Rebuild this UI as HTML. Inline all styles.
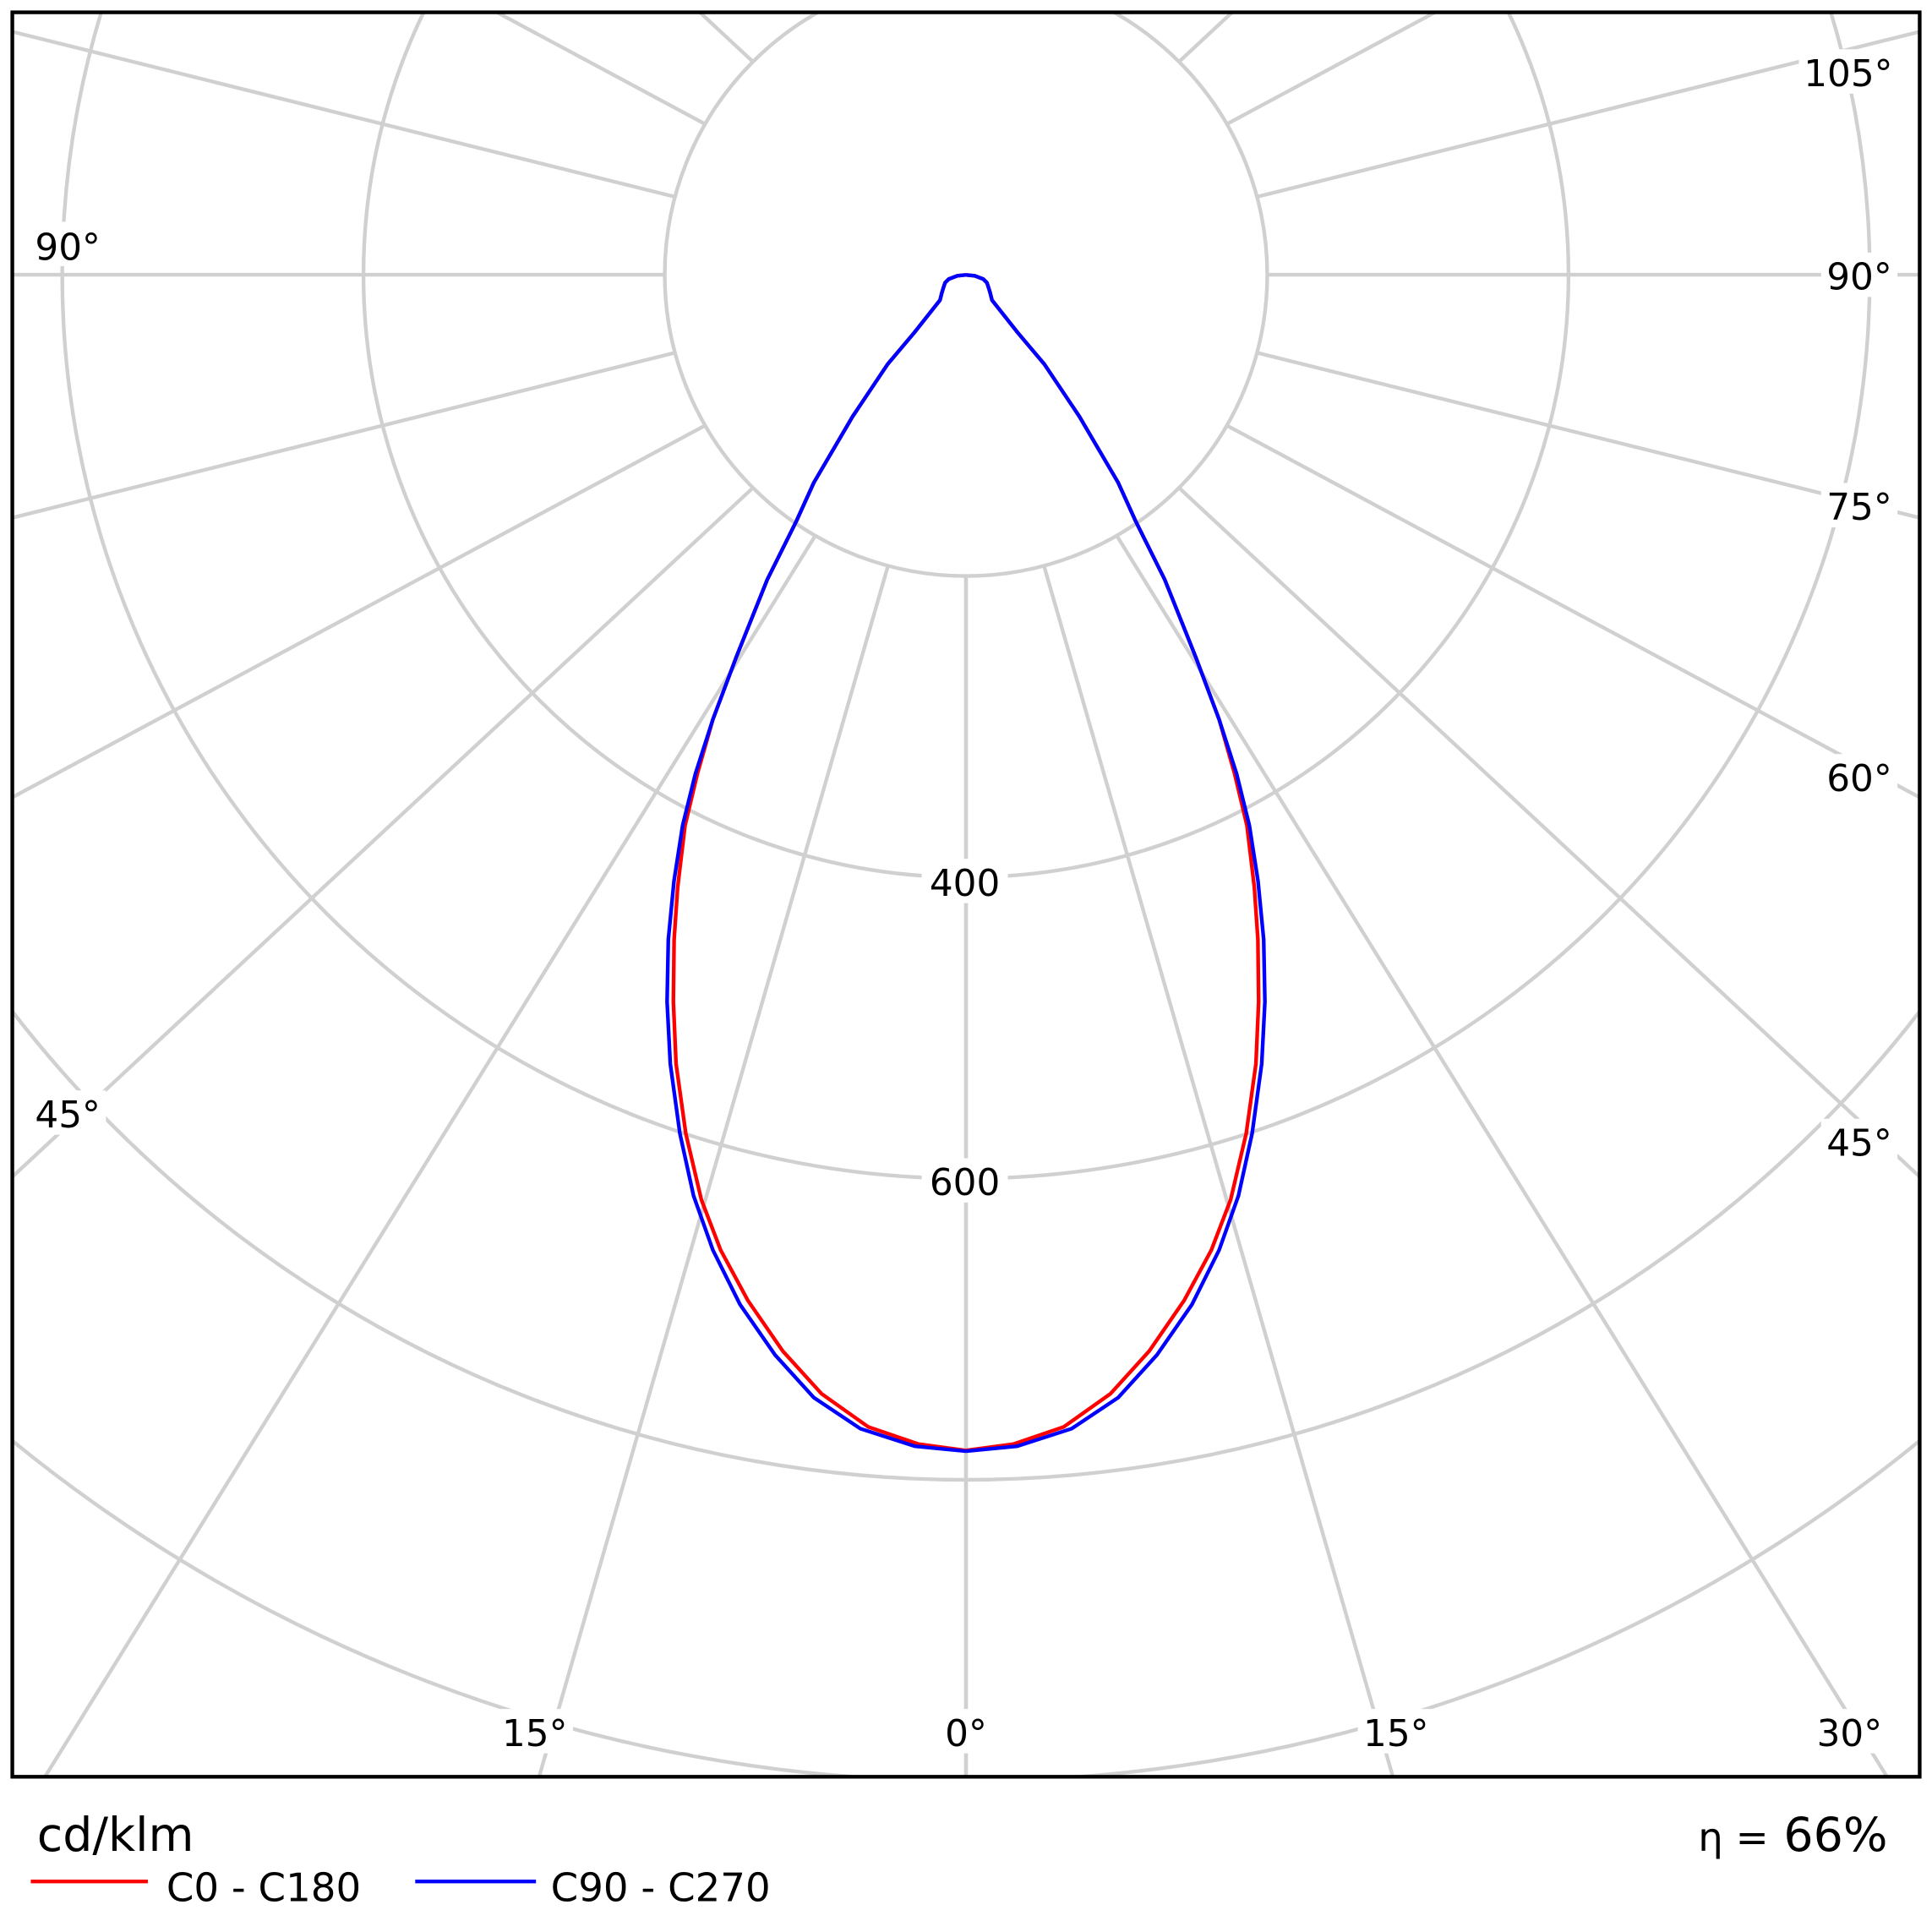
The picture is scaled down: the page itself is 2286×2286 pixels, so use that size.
<!DOCTYPE html>
<html><head><meta charset="utf-8"><style>
html,body{margin:0;padding:0;background:#fff;overflow:hidden;width:2286px;height:2286px;}
svg{display:block;position:absolute;left:0;top:0;}
text{font-family:"DejaVu Sans","Liberation Sans",sans-serif;fill:#000;}
</style></head><body>
<svg width="2286" height="2286" viewBox="0 0 1568 1568" xmlns="http://www.w3.org/2000/svg">
<defs><clipPath id="c"><rect x="10" y="10" width="1548" height="1432"/></clipPath></defs>
<g clip-path="url(#c)" stroke="#d0d0d0" stroke-width="3" fill="none">
<circle cx="784" cy="223" r="244.5"/>
<circle cx="784" cy="223" r="489"/>
<circle cx="784" cy="223" r="733.5"/>
<circle cx="784" cy="223" r="978"/>
<circle cx="784" cy="223" r="1222.5"/>
<circle cx="784" cy="223" r="1467"/>
<circle cx="784" cy="223" r="1711.5"/>
<g id="rays">
<line x1="784" y1="467.5" x2="784" y2="2400"/>
<line x1="847.3" y1="459.2" x2="1623.7" y2="3154"/>
<line x1="906.3" y1="434.7" x2="2406" y2="2851"/>
<line x1="956.9" y1="395.9" x2="3078" y2="2369"/>
<line x1="995.7" y1="345.3" x2="3594" y2="1740"/>
<line x1="1020.2" y1="286.3" x2="3918" y2="1008"/>
<line x1="1028.5" y1="223" x2="3200" y2="223"/>
<line x1="1020.2" y1="159.7" x2="3918" y2="-562"/>
<line x1="995.7" y1="100.7" x2="3594" y2="-1294"/>
<line x1="956.9" y1="50.1" x2="3078" y2="-1923"/>
<line x1="906.3" y1="11.3" x2="2406" y2="-2405"/>
</g>
<use href="#rays" transform="translate(1568,0) scale(-1,1)"/>
</g>
<g font-size="30" text-anchor="middle">
<g fill="#fff" stroke="none">
<rect x="20" y="180" width="70" height="36"/>
<rect x="1460" y="40" width="80" height="36"/>
<rect x="1478" y="205" width="62" height="36"/>
<rect x="1478" y="392" width="62" height="36"/>
<rect x="1478" y="612" width="62" height="36"/>
<rect x="1478" y="908" width="62" height="36"/>
<rect x="24" y="885" width="62" height="36"/>
<rect x="403" y="1387" width="62" height="36"/>
<rect x="763" y="1387" width="42" height="36"/>
<rect x="1102" y="1387" width="62" height="36"/>
<rect x="1470" y="1387" width="62" height="36"/>
<rect x="748" y="697" width="70" height="36"/>
<rect x="748" y="940" width="70" height="36"/>
</g>
<text x="55" y="211">90°</text>
<text x="1500" y="70">105°</text>
<text x="1509" y="235">90°</text>
<text x="1509" y="422">75°</text>
<text x="1509" y="642">60°</text>
<text x="1509" y="938">45°</text>
<text x="55" y="915">45°</text>
<text x="434" y="1417">15°</text>
<text x="784" y="1417">0°</text>
<text x="1133" y="1417">15°</text>
<text x="1501" y="1417">30°</text>
<text x="783" y="727">400</text>
<text x="783" y="970">600</text>
</g>
<g fill="none" stroke-width="3" stroke-linejoin="round">
<polyline id="red" stroke="#ff0000" points="784,223.1 777,223.8 770,226.5 767,229.5 765.5,234 764.5,237.3 762.9,243.6 742,270 720.4,295.6 692,338 660.5,391.7 646.3,423 622.7,470.4 597.5,533.4 578.6,583.8 566,628 556,670 550,720 547.1,762.6 546.5,813 548.7,863.4 556.6,920 569.2,973.6 584.9,1014.6 607,1055.5 635.3,1096.5 666.8,1131.2 704.6,1158 745.5,1172 784,1177.2"/>
<use href="#red" transform="translate(1568,0) scale(-1,1)"/>
<polyline id="blue" stroke="#0000ff" points="784,223.1 777,223.8 770,226.5 767,229.5 765.5,234 764.5,237.3 762.9,243.6 742,270 720.4,295.6 692,338 660.5,391.7 646.3,423 622.7,470.4 597.5,533.4 578.6,583.8 564.4,627.9 554,670 547,715 542.4,762.6 541.4,813 544,863.4 551.8,920 562.9,970.5 578.6,1014.6 600.6,1058.7 629,1099.6 660.5,1134.3 698.3,1159.5 742.4,1173.7 784,1177.8"/>
<use href="#blue" transform="translate(1568,0) scale(-1,1)"/>
</g>
<rect x="10" y="10" width="1548" height="1432" fill="none" stroke="#000" stroke-width="3"/>
<text x="30" y="1502" font-size="38">cd/klm</text>
<text x="1532" y="1502" font-size="38" text-anchor="end"><tspan font-size="32">η =</tspan> 66%</text>
<line x1="25" y1="1527" x2="120" y2="1527" stroke="#ff0000" stroke-width="3"/>
<text x="135" y="1543" font-size="32">C0 - C180</text>
<line x1="337" y1="1527" x2="435" y2="1527" stroke="#0000ff" stroke-width="3"/>
<text x="447" y="1543" font-size="32">C90 - C270</text>
</svg>
</body></html>
